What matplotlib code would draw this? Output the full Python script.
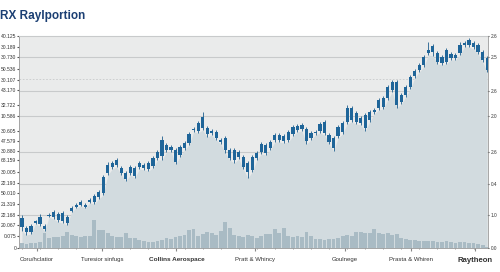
import numpy as np
import matplotlib
matplotlib.use("Agg")
import matplotlib.pyplot as plt

# Candle bodies (bottom / top) and wicks
opens = [21, 16, 16, 25, 24, 19, 32, 31, 28, 27, 25, 37, 41, 43, 41, 46, 46, 51, 55, 75,
         81, 83, 75, 69, 75, 72, 81, 80, 79, 82, 90, 92, 98, 98, 86, 93, 100, 105, 118, 117,
         120, 114, 115, 110, 106, 98, 90, 88, 91, 81, 76, 78, 90, 96, 95, 100, 108, 108, 107, 108,
         114, 118, 119, 107, 110, 115, 117, 115, 106, 100, 112, 116, 126, 128, 126, 125, 120, 128, 136, 140,
         141, 150, 158, 143, 146, 153, 161, 172, 178, 183, 195, 196, 186, 185, 186, 190, 190, 195, 203, 203,
         201, 196, 188, 178]
closes = [30, 20, 22, 27, 31, 22, 33, 36, 34, 35, 31, 40, 43, 46, 43, 48, 52, 56, 71, 83,
          85, 88, 80, 75, 81, 80, 85, 83, 85, 90, 96, 108, 103, 101, 98, 101, 105, 114, 119, 125,
          131, 120, 117, 116, 108, 110, 98, 98, 96, 91, 85, 91, 95, 104, 103, 106, 113, 113, 112, 116,
          121, 122, 123, 119, 115, 116, 124, 126, 113, 110, 121, 125, 140, 140, 135, 130, 133, 136, 138, 148,
          150, 161, 166, 166, 153, 161, 171, 177, 183, 191, 198, 202, 195, 191, 198, 194, 193, 203, 205, 208,
          205, 203, 196, 190]
highs = [33, 22, 24, 28, 34, 24, 35, 38, 36, 37, 33, 42, 45, 48, 45, 50, 54, 58, 73, 86,
         87, 90, 82, 77, 83, 82, 87, 85, 87, 92, 98, 112, 105, 103, 100, 103, 107, 116, 121, 127,
         136, 122, 119, 118, 110, 112, 100, 100, 98, 93, 87, 93, 97, 106, 105, 108, 115, 115, 114, 118,
         123, 124, 125, 121, 117, 118, 126, 128, 115, 112, 123, 127, 143, 142, 137, 132, 135, 138, 140, 150,
         152, 163, 168, 168, 155, 163, 173, 179, 185, 193, 206, 204, 197, 193, 200, 196, 195, 206, 207, 210,
         207, 205, 198, 192]
lows = [17, 13, 14, 24, 22, 17, 31, 29, 26, 25, 23, 36, 40, 42, 40, 45, 44, 49, 53, 73,
        79, 81, 73, 67, 73, 70, 79, 78, 77, 80, 88, 88, 96, 96, 84, 91, 98, 103, 116, 115,
        118, 111, 113, 108, 104, 95, 88, 85, 89, 79, 70, 76, 88, 94, 93, 98, 106, 106, 105, 106,
        112, 116, 117, 104, 108, 113, 115, 113, 104, 97, 110, 114, 124, 126, 124, 123, 117, 126, 134, 138,
        139, 148, 156, 140, 144, 151, 159, 170, 176, 181, 193, 192, 184, 183, 184, 188, 188, 193, 201, 201,
        199, 194, 186, 176]
volumes = [5, 4, 5, 5, 6, 15, 10, 11, 11, 12, 16, 13, 12, 11, 12, 12, 28, 18, 18, 15,
           12, 11, 11, 15, 10, 10, 8, 7, 6, 6, 7, 8, 10, 9, 11, 12, 13, 18, 19, 12,
           14, 16, 15, 13, 17, 26, 20, 13, 12, 11, 13, 12, 10, 12, 14, 14, 19, 15, 20, 12,
           11, 12, 11, 16, 12, 9, 9, 8, 9, 9, 10, 12, 13, 12, 16, 16, 15, 15, 19, 15,
           14, 15, 13, 14, 10, 9, 8, 8, 7, 7, 7, 7, 6, 6, 7, 6, 5, 6, 6, 5,
           5, 4, 3, 1]

left_ticks = [212, 201, 191, 179, 168, 158, 143, 132, 117, 107, 97, 88, 76, 65, 55, 44, 33, 23, 12, 0]
left_labels = ["40.125", "30.189", "30.730", "50.536", "30.107", "43.170", "32.722", "10.586",
               "30.605", "47.579", "30.880", "68.159", "30.005", "22.193", "50.010", "21.319",
               "22.168", "20.067", "0.075", "0"]
right_ticks = [212, 191, 157, 132, 96, 64, 33, 0]
right_labels = ["2.6", "2.5", "2.6", "2.0", "2.6", "0.4", "1.0", "0.0"]
grid_solid = [191, 157, 132, 96, 64, 33]
grid_dashed = [169]

company_pos = [3.3, 17.8, 34.2, 51.5, 71.5, 86.2, 100.3]
companies = ["Coru/hclatior", "Turesior sinfugs", "Collins Aerospace", "Pratt & Whincy",
             "Goulnege", "Prasta & Whiren", "Raytheon"]

x = np.arange(len(opens))
opens = np.array(opens)
closes = np.array(closes)

fig = plt.figure(figsize=(5, 2.72), dpi=100)
ax = fig.add_axes([0.038, 0.088, 0.938, 0.78])
ax.set_facecolor("#eaebeb")

for g in grid_solid:
    ax.axhline(g, color="#c8cacb", lw=0.8, zorder=0)
for g in grid_dashed:
    ax.axhline(g, color="#c8cacb", lw=0.6, ls=(0, (2, 2)), zorder=0)

# area under the lows
ax.fill_between(x, lows, 0, color="#d2dbdf", lw=0, zorder=1)

# volume
ax.bar(x, volumes, width=0.85, color="#a9bbc4", lw=0, zorder=2)

# candles
ax.vlines(x, lows, highs, color="#1f5f8e", lw=0.6, zorder=3)
ax.bar(x, closes - opens, bottom=opens, width=0.7, color="#1f6599", lw=0, zorder=4)

ax.set_xlim(-0.66, len(x) - 0.8)
ax.set_ylim(0, 212)

ax.set_yticks(left_ticks)
ax.set_yticklabels(left_labels, family="Liberation Sans")
ax.tick_params(axis="y", labelsize=3.6, length=1.2, pad=0.8, colors="#555555",
               labelcolor="#333333")

ax.set_xticks(company_pos)
ax.set_xticklabels([])
ax.set_xticks(np.arange(0, len(x), 4), minor=True)
ax.tick_params(axis="x", which="both", length=2, color="#888888")
ax.tick_params(axis="x", which="minor", length=1)

for pos, name in zip(company_pos, companies):
    if name == "Raytheon":
        size, weight = 5.6, "bold"
    elif name == "Collins Aerospace":
        size, weight = 4.6, "bold"
    else:
        size, weight = 4.3, "normal"
    ax.text(pos, -9, name, ha="center", va="top", fontsize=size,
            fontweight=weight, color="#333333", family="Liberation Sans")

ax.spines["top"].set_color("#c8cacb")
for s in ["left", "right", "bottom"]:
    ax.spines[s].set_color("#999999")
    ax.spines[s].set_linewidth(0.6)

ax2 = ax.twinx()
ax2.set_ylim(0, 212)
ax2.set_yticks(right_ticks)
ax2.set_yticklabels(right_labels, family="Liberation Sans")
ax2.tick_params(axis="y", labelsize=3.4, length=1, pad=0.8, colors="#555555",
                labelcolor="#333333")
for s in ax2.spines.values():
    s.set_visible(False)

fig.text(0.0, 0.965, "RX Raylportion", fontsize=8.5, fontweight="bold",
         color="#1b3f73", ha="left", va="top", family="Liberation Sans")

fig.savefig("out.png", dpi=100, facecolor="white")
